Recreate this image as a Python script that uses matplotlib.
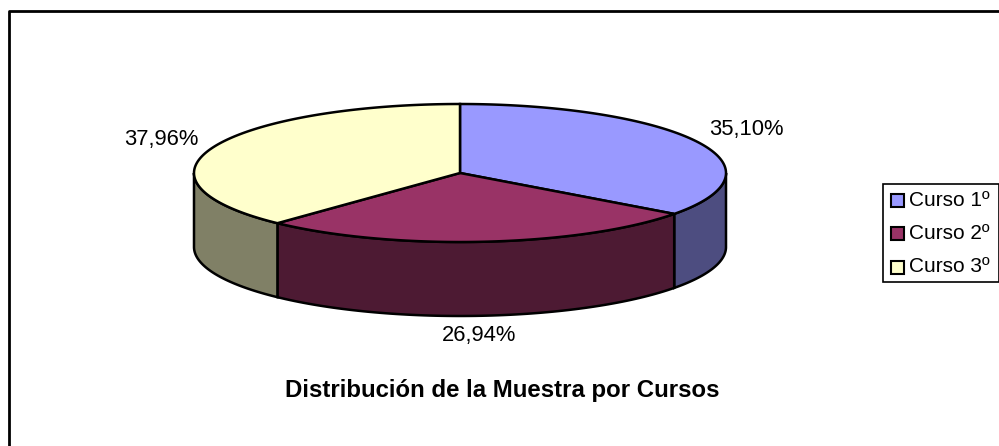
import numpy as np
import matplotlib.pyplot as plt
from matplotlib.patches import Polygon, Rectangle

plt.rcParams['font.family'] = ['Liberation Sans', 'DejaVu Sans']

# data
labels = ['Curso 1º', 'Curso 2º', 'Curso 3º']
values = [35.10, 26.94, 37.96]
pct_text = ['35,10%', '26,94%', '37,96%']
top_colors = ['#9999FF', '#993366', '#FFFFCC']
side_colors = ['#4D4D80', '#4D1A33', '#808066']
title = 'Distribución de la Muestra por Cursos'

# pie geometry (pixel coords)
cx, cy = 460, 173
a, b = 266, 69
h = 74

fig = plt.figure(figsize=(9.99, 4.46), dpi=100)
ax = fig.add_axes([0, 0, 1, 1])
ax.set_xlim(0, 999)
ax.set_ylim(446, 0)
ax.axis('off')


def ell(t, dy=0):
    return cx + a * np.cos(t), cy - b * np.sin(t) + dy


# start at 12 o'clock, go clockwise
fracs = np.array(values) / sum(values)
ends = np.pi / 2 - 2 * np.pi * np.cumsum(fracs)
starts = np.concatenate([[np.pi / 2], ends[:-1]])

# side walls (only the front half is visible)
for s, e, col in zip(starts, ends, side_colors):
    for shift in (0, -2 * np.pi):
        lo, hi = max(e, -np.pi + shift), min(s, shift)
        if hi <= lo:
            continue
        t = np.linspace(hi, lo, 80)
        x1, y1 = ell(t)
        x2, y2 = ell(t[::-1], h)
        pts = np.column_stack([np.concatenate([x1, x2]), np.concatenate([y1, y2])])
        ax.add_patch(Polygon(pts, closed=True, facecolor=col, edgecolor='black', lw=1.8, zorder=2))

# top sectors
for s, e, col in zip(starts, ends, top_colors):
    t = np.linspace(s, e, 200)
    x, y = ell(t)
    pts = np.column_stack([np.concatenate([[cx], x]), np.concatenate([[cy], y])])
    ax.add_patch(Polygon(pts, closed=True, facecolor=col, edgecolor='black', lw=1.8, zorder=3))

# percentage labels
label_pos = [(746, 130), (479, 336), (161, 140)]
for txt, (x, y) in zip(pct_text, label_pos):
    ax.text(x, y, txt, fontsize=15.8, ha='center', va='center')

ax.text(502, 391, title, fontsize=17.3, fontweight='bold', ha='center', va='center')

# legend
ax.add_patch(Rectangle((883, 184), 116, 98, facecolor='white', edgecolor='black', lw=1.2, zorder=4))
for i, (lab, col) in enumerate(zip(labels, top_colors)):
    yy = 200 + i * 33.5
    ax.add_patch(Rectangle((891, yy - 6.5), 13, 13, facecolor=col, edgecolor='black', lw=1.5, zorder=5))
    ax.text(909, yy, lab, fontsize=15, ha='left', va='center', zorder=6)

# chart area border (left and top visible)
ax.plot([8.5, 8.5, 1005], [460, 11, 11], color='black', lw=2, clip_on=False)

fig.savefig('out.png', dpi=100)
